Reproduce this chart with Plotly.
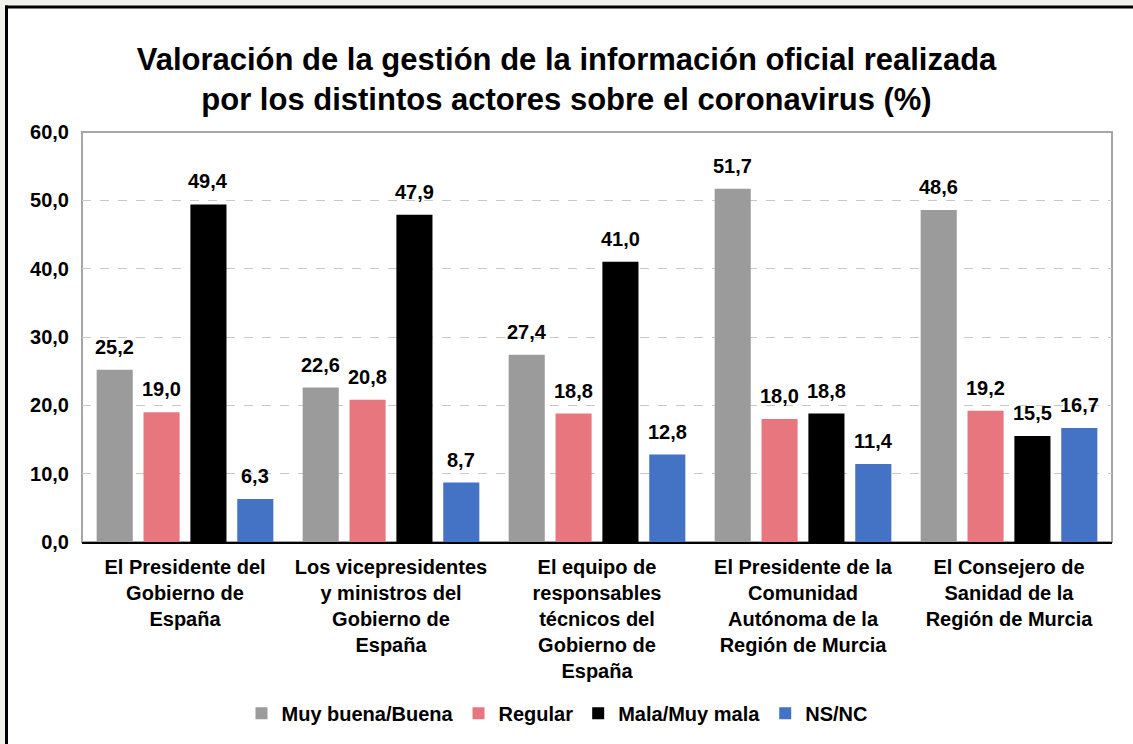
import plotly.graph_objects as go

categorias = ['El Presidente del<br>Gobierno de<br>España',
              'Los vicepresidentes<br>y ministros del<br>Gobierno de<br>España',
              'El equipo de<br>responsables<br>técnicos del<br>Gobierno de<br>España',
              'El Presidente de la<br>Comunidad<br>Autónoma de la<br>Región de Murcia',
              'El Consejero de<br>Sanidad de la<br>Región de Murcia']
buena = [25.2, 22.6, 27.4, 51.7, 48.6]
regular = [19.0, 20.8, 18.8, 18.0, 19.2]
mala = [49.4, 47.9, 41.0, 18.8, 15.5]
nsnc = [6.3, 8.7, 12.8, 11.4, 16.7]

series = [('Muy buena/Buena', buena, '#9b9b9b'),
          ('Regular', regular, '#e8767f'),
          ('Mala/Muy mala', mala, '#000000'),
          ('NS/NC', nsnc, '#4472c4')]

FONT = 'Liberation Sans, Arial, sans-serif'

# plot area in page pixels
L, R, T, B = 82, 1112, 132, 544
BARGAP = 0.09


def px(x):
    return (x - L) / (R - L)


def py(y):
    return (B - y) / (B - T)


fig = go.Figure()
annotations = []
slot = (R - L) / len(categorias) * (1 - BARGAP) / len(series)
for n, (nombre, valores, color) in enumerate(series):
    fig.add_trace(go.Bar(x=categorias, y=valores, name=nombre,
                         marker=dict(color=color, line_width=0)))
    # value labels above each bar
    shift = (n - (len(series) - 1) / 2) * slot
    for cat, v in zip(categorias, valores):
        annotations.append(dict(x=cat, y=v, xref='x', yref='y',
                                text=('%.1f' % v).replace('.', ','),
                                showarrow=False, yanchor='bottom', xanchor='center',
                                xshift=shift, yshift=10,
                                font=dict(size=20, color='black', family=FONT, weight='bold')))

shapes = [
    dict(type='rect', xref='paper', yref='paper', x0=0, x1=1, y0=0, y1=1,
         line=dict(color='#a6a6a6', width=2), layer='below'),
    dict(type='rect', xref='paper', yref='paper', x0=px(-5), x1=px(1140), y0=py(5), y1=py(-5),
         line_width=0, fillcolor='#f2f2ec', layer='below'),
    dict(type='rect', xref='paper', yref='paper', x0=px(-5), x1=px(5), y0=py(750), y1=py(-5),
         line_width=0, fillcolor='#f2f2ec', layer='below'),
    dict(type='line', xref='paper', yref='paper', x0=px(5), x1=px(1140), y0=py(6.5), y1=py(6.5),
         line=dict(color='black', width=3)),
    dict(type='line', xref='paper', yref='paper', x0=px(6.5), x1=px(6.5), y0=py(5), y1=py(750),
         line=dict(color='black', width=3)),
]

fig.update_layout(
    width=1133, height=744,
    margin=dict(l=L, r=1133 - R, t=T, b=744 - B),
    paper_bgcolor='white', plot_bgcolor='white',
    separators=',.',
    barmode='group', bargap=BARGAP, bargroupgap=0.23,
    font=dict(family=FONT, color='black', weight='bold'),
    title=dict(text='Valoración de la gestión de la información oficial realizada<br>'
                    'por los distintos actores sobre el coronavirus (%)',
               x=0.5, xref='container', y=0.906, yref='container', yanchor='top',
               font=dict(size=31, color='black', family=FONT, weight='bold')),
    legend=dict(orientation='h', x=px(557), xanchor='center', y=py(716), yanchor='middle',
                font=dict(size=20, family=FONT, weight='bold'), itemwidth=30,
                bgcolor='rgba(0,0,0,0)'),
    shapes=shapes,
    annotations=annotations,
)
fig.update_xaxes(showline=True, linecolor='black', linewidth=2, ticks='',
                 ticklabelstandoff=6,
                 tickfont=dict(size=20, family=FONT, weight='bold'))
fig.update_yaxes(range=[0, 60], dtick=10, tickformat='.1f',
                 showgrid=True, gridcolor='#c8c8c8', griddash='dash', gridwidth=1,
                 zeroline=False, showline=False, ticklabelstandoff=12,
                 tickfont=dict(size=20, family=FONT, weight='bold'))

fig.write_html('out.html', config={'displayModeBar': False},
               post_script="document.body.style.margin='0px';")
